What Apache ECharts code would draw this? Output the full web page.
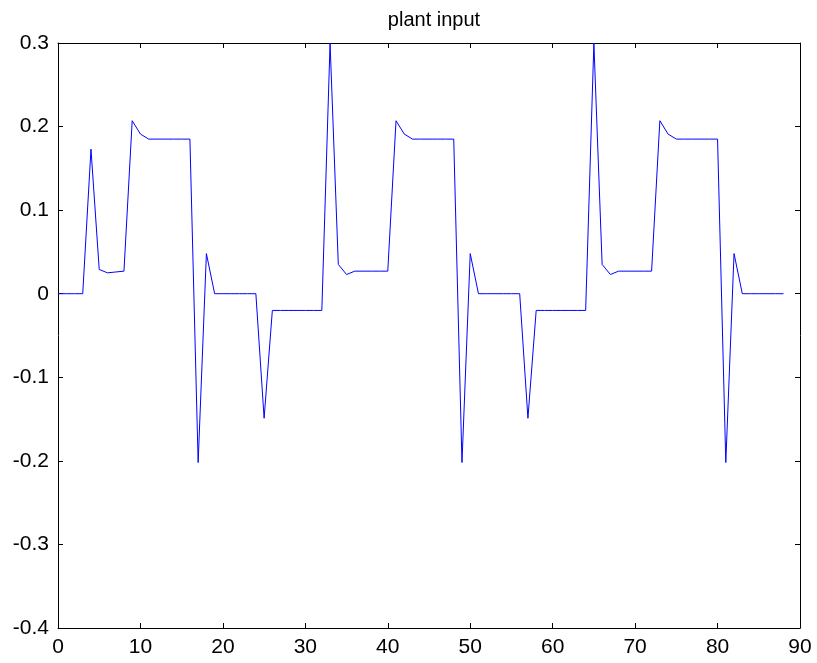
<!DOCTYPE html>
<html>
<head>
<meta charset="utf-8">
<script src="https://cdn.jsdelivr.net/npm/echarts@6/dist/echarts.min.js"></script>
<style>
  html, body { margin: 0; padding: 0; background: #fff; }
  #chart { width: 817px; height: 663px; }
</style>
</head>
<body>
<div id="chart"></div>
<script>
// Sample times (steps) and the plant input signal
const steps = [
  0, 1, 2, 3, 4, 5, 6, 7, 8, 9, 10, 11, 12, 13, 14, 15, 16, 17, 18, 19,
  20, 21, 22, 23, 24, 25, 26, 27, 28, 29, 30, 31, 32, 33, 34, 35, 36, 37, 38, 39,
  40, 41, 42, 43, 44, 45, 46, 47, 48, 49, 50, 51, 52, 53, 54, 55, 56, 57, 58, 59,
  60, 61, 62, 63, 64, 65, 66, 67, 68, 69, 70, 71, 72, 73, 74, 75, 76, 77, 78, 79,
  80, 81, 82, 83, 84, 85, 86, 87, 88
];
const plantInput = [
  0, 0, 0, 0, 0.173, 0.029, 0.025, 0.026, 0.027, 0.207, 0.191, 0.185, 0.185, 0.185, 0.185, 0.185, 0.185, -0.202, 0.048, 0,
  0, 0, 0, 0, 0, -0.149, -0.02, -0.02, -0.02, -0.02, -0.02, -0.02, -0.02, 0.3, 0.035, 0.023, 0.027, 0.027, 0.027, 0.027,
  0.027, 0.207, 0.191, 0.185, 0.185, 0.185, 0.185, 0.185, 0.185, -0.202, 0.048, 0, 0, 0, 0, 0, 0, -0.149, -0.02, -0.02,
  -0.02, -0.02, -0.02, -0.02, -0.02, 0.3, 0.035, 0.023, 0.027, 0.027, 0.027, 0.027, 0.027, 0.207, 0.191, 0.185, 0.185, 0.185, 0.185, 0.185,
  0.185, -0.202, 0.048, 0, 0, 0, 0, 0, 0
];
const xRange = { min: 0, max: 90, step: 10 };
const yRange = { min: -0.4, max: 0.3, step: 0.1 };

const FONT = 'Liberation Sans, Arial, sans-serif';
const points = steps.map((t, i) => [t, plantInput[i]]);

const boxLine = { show: true, onZero: false, lineStyle: { color: '#000', width: 1 } };
const innerTick = { show: true, inside: true, length: 5, lineStyle: { color: '#000', width: 1 } };

const chart = echarts.init(document.getElementById('chart'), null, { renderer: 'canvas' });
chart.setOption({
  animation: false,
  backgroundColor: '#fff',
  title: {
    text: 'plant input',
    left: 429, top: 5, textAlign: 'center',
    textStyle: { fontFamily: FONT, fontSize: 20, fontWeight: 'normal', color: '#000' }
  },
  grid: { left: 58, right: 17, top: 43, bottom: 35, containLabel: false },
  xAxis: [
    {
      type: 'value', position: 'bottom',
      min: xRange.min, max: xRange.max, interval: xRange.step,
      axisLine: boxLine, axisTick: innerTick, splitLine: { show: false },
      axisLabel: { color: '#000', fontFamily: FONT, fontSize: 21, margin: 9 }
    },
    {
      type: 'value', position: 'top',
      min: xRange.min, max: xRange.max, interval: xRange.step,
      axisLine: boxLine, axisTick: innerTick, splitLine: { show: false },
      axisLabel: { show: false }
    }
  ],
  yAxis: [
    {
      type: 'value', position: 'left',
      min: yRange.min, max: yRange.max, interval: yRange.step,
      axisLine: boxLine, axisTick: innerTick, splitLine: { show: false },
      axisLabel: {
        color: '#000', fontFamily: FONT, fontSize: 21, margin: 9,
        formatter: v => String(+v.toFixed(1))
      }
    },
    {
      type: 'value', position: 'right',
      min: yRange.min, max: yRange.max, interval: yRange.step,
      axisLine: boxLine, axisTick: innerTick, splitLine: { show: false },
      axisLabel: { show: false }
    }
  ],
  series: [{
    type: 'line',
    data: points,
    xAxisIndex: 0, yAxisIndex: 0,
    showSymbol: false,
    lineStyle: { color: '#0000ff', width: 1 },
    silent: true
  }]
});
</script>
</body>
</html>
